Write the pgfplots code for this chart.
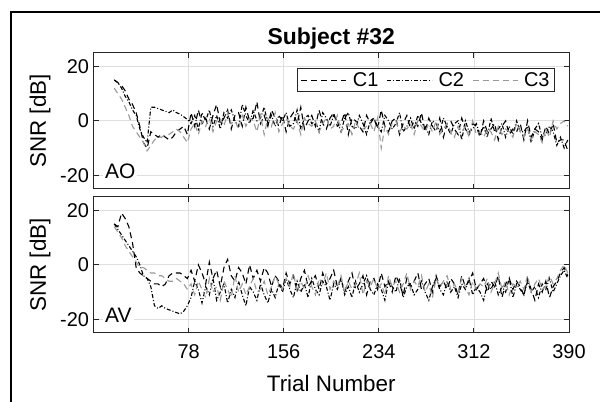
\documentclass[border=0pt]{standalone}
\usepackage{fontspec}
\setmainfont{Liberation Sans}
\usepackage{pgfplots}
\usepackage{pgfplotstable}
\pgfplotsset{compat=1.18}

\pgfplotstableread{
x a1 a2 a3 v1 v2 v3
17 15 15 12 15 15 14
20 14 14 10 14 13 12
23 13 12 8 19 11 10
26 11 9 5 17 9 7
29 8 7 2 14 7 5
32 6 4 -2 8 5 3
35 3 2 -4 -1 3 1
38 -2 -3 -6 -3 0 -1
41 -8 -6 -8 -4 -4 -1
44 -10 -8 -11 -5 -5 -2
47 -4 5 -9 -6 -8 -3
50 -5 5 -7 -7 -15 -3
53 -6 4.5 -6 -7 -16 -4
56 -5 4 -6 -8 -15 -4
59 -6 3.5 -5 -7 -16 -5
62 -7 3 -5 -4 -16.5 -6
65 -6 4 -4 -3 -17 -6
68 -4 3 -3 -3 -17.5 -5
71 -3 2.5 -4 -3 -18 -6
74 -2 1.5 -6 -4 -17 -7
77 -5 0.5 -8 -5 -15 -9
80 3 -1 -3 -2 -12 -7
83 -2 2 -1 -6 -6 -11
86 4 -3 -5 0 -9 -6
89 -1 3 0 -3 -14 -9
92 1 0 -2 -7 -8 -12
95 -3 4 1 1 -11 -5
98 2 -2 -4 -5 -5 -10
101 6 2 0 -2 -13 -8
104 -1 -3 1 -8 -10 -13
107 1 3 -2 -1 -7 -6
110 4 1 3 2 -14 -9
113 -3 4 -1 -4 -9 -12
116 2 0 0 -6 -12 -4
119 3 -2 -3 -1 -6 -10
122 -2 6 2 -3 -11 -7
125 5 2 -2 -7 -15 -11
128 0 -1 1 0 -8 -8
131 1 4 0 -5 -10 -5
134 7 0 -4 -2 -13 -10
137 -1 1 2 -6 -7 -9
140 2 5 -5 -1 -11 -6
143 -2 -1 1 -3 -14 -11
146 4 2 -2 -8 -9 -8
149 1 -2 3 -4 -12 -4
152 -2 2 -4 -6 -7 -7
155 2 0 -1 -9 -10 -9
158 -4 3 1 -3 -5 -5
161 1 -2 -2 -7 -9 -8
164 3 -1 -3 -4 -12 -3
167 -1 4 0 -10 -6 -10
170 5 -3 -5 -5 -10 -6
173 -3 1 1 -2 -7 -9
176 0 2 -1 -8 -12 -4
179 2 -1 -2 -6 -5 -8
182 -2 0 0 -4 -9 -11
185 4 -4 -4 -9 -11 -5
188 -1 3 -1 -3 -6 -7
191 -3 1 1 -7 -8 -3
194 1 -2 -3 -5 -13 -9
197 3 2 -2 -2 -7 -6
200 -2 0 2 -8 -9 -8
203 -1 -4 -4 -5 -5 -4
206 3 1 -2 -10 -11 -10
209 -5 3 -1 -6 -8 -6
212 1 -2 -5 -3 -12 -9
215 0 -3 0 -9 -6 -7
218 -2 2 -3 -7 -10 -3
221 -4 -1 -3 -4 -7 -11
224 2 -5 -2 -11 -4 -6
227 -1 0 -1 -6 -9 -8
230 1 1 -4 -5 -11 -5
233 -3 -2 1 -9 -7 -9
236 4 -4 -10 -3 -9 -7
239 -2 2 -2 -8 -13 -11
242 -4 0 -5 -6 -6 -4
245 0 -3 -1 -10 -8 -8
248 1 -1 0 -4 -10 -6
251 -5 3 -4 -7 -5 -10
254 -1 -4 -2 -11 -12 -7
257 2 -2 -3 -5 -8 -3
260 -3 1 -1 -8 -7 -9
263 0 -3 -5 -6 -11 -6
266 -2 2 0 -3 -9 -8
269 3 -1 -2 -9 -6 -4
272 -4 -2 -4 -7 -10 -10
275 1 -5 -1 -5 -13 -7
278 -2 0 -4 -10 -8 -12
281 -4 -1 0 -4 -5 -5
284 1 -4 -5 -8 -9 -8
287 -6 1 -3 -6 -11 -6
290 -1 -2 -1 -9 -6 -4
293 0 -5 -4 -5 -10 -9
296 -3 -1 -6 -7 -8 -7
299 -5 0 -2 -11 -12 -10
302 1 -7 -4 -4 -7 -5
305 -3 0 -2 -8 -9 -8
308 -5 -4 -6 -6 -5 -11
311 -1 -3 0 -3 -11 -6
314 -2 -1 -5 -9 -8 -9
317 -6 -5 -4 -7 -10 -7
320 0 -2 -6 -5 -13 -8
323 -4 -6 -3 -10 -7 -5
326 -3 1 -4 -6 -9 -10
329 -1 -4 -7 -8 -6 -7
332 -7 -3 -2 -4 -11 -3
335 -2 -1 -5 -12 -8 -9
338 0 -6 -3 -7 -10 -6
341 -5 -2 -4 -5 -5 -11
344 -3 -5 -6 -9 -12 -7
347 -4 0 -1 -6 -7 -8
350 -1 -4 -4 -8 -9 -6
353 -7 -4 -6 -11 -11 -9
356 0 -2 -3 -5 -6 -4
359 -6 -8 -7 -9 -10 -10
362 -3 -3 -4 -13 -8 -7
365 -4 -1 -5 -7 -12 -5
368 -7 -6 -8 -10 -7 -9
371 -2 -5 -3 -6 -9 -8
374 -5 -2 -6 -12 -5 -4
377 -1 -4 0 -8 -10 -7
380 -8 -9 -3 -6 -7 -5
383 -7 -6 -1 -3 -4 -2
386 -7 -10 0 -1 -2 0
389 -11 -7 -2 -4 -5 -3
}\snrdata

\definecolor{axcol}{gray}{0.15}
\definecolor{gridcol}{gray}{0.87}
\definecolor{cthree}{gray}{0.6}

\pgfplotsset{
  snr/.style={
    scale only axis, width=475.5bp, height=136.3bp,
    xmin=0, xmax=390, ymin=-25, ymax=25,
    xtick={78,156,234,312,390}, ytick={-20,0,20},
    yticklabels={-20,0,20},
    tick align=inside, xtick pos=both, ytick pos=both,
    major tick length=5bp,
    grid=major, major grid style={gridcol, line width=0.8bp},
    axis line style={axcol, line width=1bp},
    every tick/.style={axcol, line width=1bp},
    tick label style={font=\fontsize{20}{24}\selectfont, text=black},
    yticklabel style={xshift=-1bp},
  },
  c1/.style={black, line width=1.1bp, dash pattern=on 6bp off 4bp},
  c2/.style={black, line width=1.1bp, dash pattern=on 4bp off 2bp on 1bp off 2bp},
  c3/.style={cthree, line width=1.1bp, dash pattern=on 6bp off 4bp},
}

\begin{document}
\begin{tikzpicture}
\begin{axis}[snr, at={(93.5bp,213bp)}, anchor=south west, xticklabels={},
  legend columns=3,
  legend style={at={(0.9706,0.8877)}, anchor=north east, draw=axcol, line width=1bp,
    font=\fontsize{20}{24}\selectfont, inner xsep=3bp, inner ysep=2bp,
    /tikz/every odd column/.append style={column sep=4bp},
    /tikz/every even column/.append style={column sep=6bp}},
  legend image code/.code={\draw[#1] (0bp,0bp) -- (45bp,0bp);},
]
\addplot[c1] table[x=x, y=a1] {\snrdata};
\addplot[c2] table[x=x, y=a2] {\snrdata};
\addplot[c3] table[x=x, y=a3] {\snrdata};
\legend{C1,C2,C3}
\node[anchor=west, fill=white, inner sep=2bp, font=\fontsize{21}{24}\selectfont] at (rel axis cs:0.02,0.127) {AO};
\end{axis}
\begin{axis}[snr, at={(93.5bp,69bp)}, anchor=south west,
  xticklabels={78,156,234,312,390}, xticklabel style={yshift=-8bp}]
\addplot[c1] table[x=x, y=v1] {\snrdata};
\addplot[c2] table[x=x, y=v2] {\snrdata};
\addplot[c3] table[x=x, y=v3] {\snrdata};
\node[anchor=west, fill=white, inner sep=2bp, font=\fontsize{21}{24}\selectfont] at (rel axis cs:0.02,0.132) {AV};
\end{axis}
\node[rotate=90, font=\fontsize{22.5}{26}\selectfont] at (40bp,281bp) {SNR [dB]};
\node[rotate=90, font=\fontsize{22.5}{26}\selectfont] at (40bp,137bp) {SNR [dB]};
\node[anchor=base, font=\bfseries\fontsize{23}{27}\selectfont] at (331.25bp,357bp) {Subject \#32};
\node[anchor=base, font=\fontsize{22.5}{26}\selectfont] at (331.25bp,10.5bp) {Trial Number};
\draw[line width=2bp] (10.5bp,-5bp) -- (10.5bp,390bp) -- (605bp,390bp);
\pgfresetboundingbox
\path[use as bounding box] (0,0) rectangle (600bp,402bp);
\end{tikzpicture}
\end{document}
